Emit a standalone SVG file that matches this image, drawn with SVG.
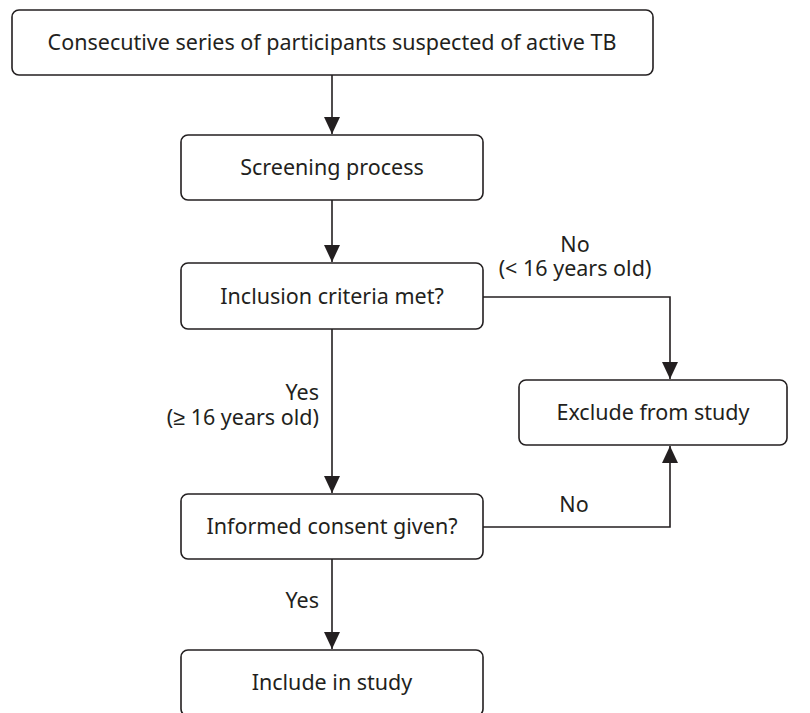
<svg xmlns="http://www.w3.org/2000/svg" width="810" height="713" viewBox="0 0 810 713">
<defs>
<marker id="ah" markerWidth="18" markerHeight="16" refX="17" refY="8" orient="auto" markerUnits="userSpaceOnUse">
<path d="M0,0 L17,8 L0,16 Z" fill="#231f20"/>
</marker>
<style>
.box{fill:#fff;stroke:#231f20;stroke-width:1.6}
.t{font-family:"Noto Sans","Liberation Sans",sans-serif;font-size:21.5px;fill:#231f20}
.c{text-anchor:middle}
.r{text-anchor:end}
.ln{fill:none;stroke:#231f20;stroke-width:1.6}
</style>
</defs>
<rect width="810" height="713" fill="#fff"/>
<g id="connectors">
<path class="ln" d="M332,75 V134" marker-end="url(#ah)"/>
<path class="ln" d="M332,200 V262" marker-end="url(#ah)"/>
<path class="ln" d="M332,329 V493" marker-end="url(#ah)"/>
<path class="ln" d="M483,297 H670 V379" marker-end="url(#ah)"/>
<path class="ln" d="M483,527 H670 V446" marker-end="url(#ah)"/>
<path class="ln" d="M332,559 V649" marker-end="url(#ah)"/>
</g>
<g id="labels">
<text class="t c" x="575" y="252">No</text>
<text class="t c" x="575" y="276">(&lt; 16 years old)</text>
<text class="t r" x="319" y="400">Yes</text>
<text class="t r" x="319" y="425">(≥ 16 years old)</text>
<text class="t c" x="574" y="512">No</text>
<text class="t r" x="319" y="608">Yes</text>
</g>
<g id="n1"><rect class="box" x="12" y="10" width="641" height="65" rx="7"/><text class="t c" x="332" y="50">Consecutive series of participants suspected of active TB</text></g>
<g id="n2"><rect class="box" x="181" y="135" width="302" height="65" rx="7"/><text class="t c" x="332" y="175">Screening process</text></g>
<g id="n3"><rect class="box" x="181" y="263" width="302" height="66" rx="7"/><text class="t c" x="332" y="304">Inclusion criteria met?</text></g>
<g id="n4"><rect class="box" x="519" y="380" width="268" height="65" rx="7"/><text class="t c" x="653" y="420">Exclude from study</text></g>
<g id="n5"><rect class="box" x="181" y="494" width="302" height="65" rx="7"/><text class="t c" x="332" y="534">Informed consent given?</text></g>
<g id="n6"><rect class="box" x="181" y="650" width="302" height="66" rx="7"/><text class="t c" x="332" y="690">Include in study</text></g>
</svg>
